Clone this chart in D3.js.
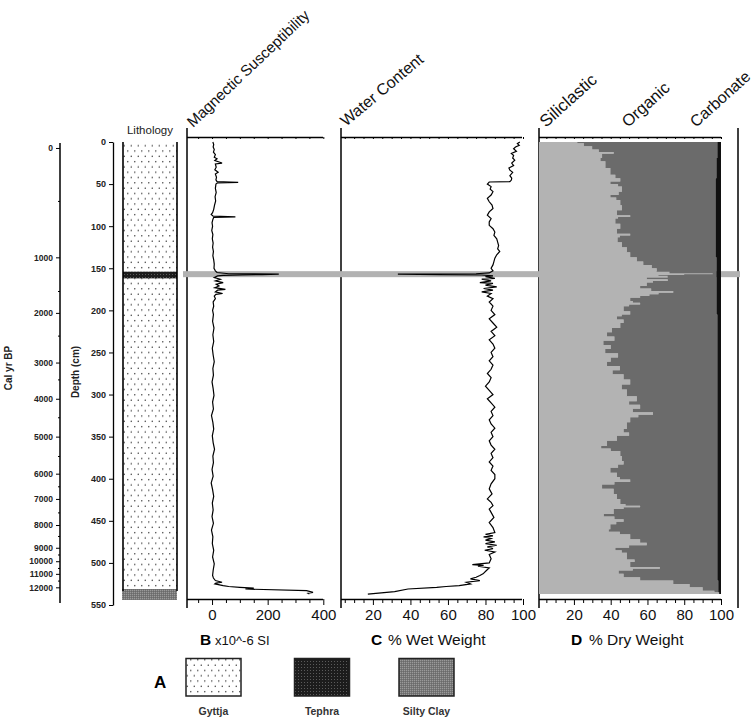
<!DOCTYPE html>
<html><head><meta charset="utf-8">
<script src="https://cdn.jsdelivr.net/npm/d3@7"></script>
<style>body{margin:0;background:#fff}svg{display:block;font-family:"Liberation Sans",Arial,sans-serif}</style>
</head><body><svg id="c" width="754" height="725"></svg>
<script>
// ---------- DATA ----------
const depthTicks = [0,50,100,150,200,250,300,350,400,450,500,550];
const calAges   = [0,500,1000,1500,2000,2500,3000,3500,4000,4500,5000,5500,6000,6500,7000,7500,8000,8500,9000,9500,10000,10500,11000,11500,12000];
const calDepths = [7.1,70,137,177,203,230,262,282,305,327,350,373,394,409,424,440,455,468,482,490,498,506,513,521,529];
const calMajor  = [0,1000,2000,3000,4000,5000,6000,7000,8000,9000,10000,11000,12000];
const calMinor  = [500,1500,2500,3500,4500,5500,6500,7500,8500,9500,10500,11500];

const bTicks  = [-50,0,50,100,150,200,250,300,350,400];
const bLabels = [0,200,400];
const cTicks  = [5,10,15,20,25,30,35,40,45,50,55,60,65,70,75,80,85,90,95,100];
const cLabels = [20,40,60,80,100];
const dTicks  = [5,10,15,20,25,30,35,40,45,50,55,60,65,70,75,80,85,90,95,100];
const dLabels = [20,40,60,80,100];

const tephraDepth = 157;
const lithology = [
  {type:"gyttja", top:0, bottom:531},
  {type:"tephra", top:154, bottom:162},
  {type:"silty",  top:531, bottom:544}
];

const bDepth = [0,3,6,9,12,15,18,20,22,25,26,30,33,36,38,42,45,47,47.5,48,48.5,50,55,60,65,70,75,80,84,86,88,89,89.5,92,96,100,105,110,115,120,125,130,135,140,145,150,153,155,156.5,157,157.5,158,158.5,159,161,163,165,167,169,171,173,175,176,178,180,181,183,186,190,195,200,205,213,221,229,237,245,253,261,269,277,285,293,301,309,317,325,333,341,349,357,365,373,381,389,397,405,413,421,429,437,445,453,461,469,477,485,493,501,509,515,518,521,523,524,525,527,528,529,530,531,533,535,536,537];
const magSus = [3,6,4,8,5,12,8,18,10,36,12,15,10,22,12,16,14,18,65,94,20,14,12,15,11,13,9,6,2,-3,4,84,6,3,0,2,-1,3,1,4,2,5,3,6,8,7,12,18,60,240,180,110,40,20,8,30,12,40,15,25,10,48,20,12,38,14,8,12,4,6,2,5,2,7,3,6,1,4,8,3,5,0,4,7,2,5,-2,3,6,1,4,9,3,5,0,4,-3,2,6,1,4,0,5,-2,3,1,6,2,8,4,2,5,12,36,14,10,40,60,100,150,120,340,363,345,350];

const cDepth = [0,2,4,6,8,11,13.7,16,19,21.6,25,28,31,33.4,36,40,43,45.2,47,47.5,50,53,56,59,63,67,71,75,79,83,87,91,95,99,103,107,111,115,119,123,127,130,134,138,142,146,150,153,155.5,156.5,157,157.5,158,159,160,162,163,165,167,168,170,172,174,176,178,180,183,186,190,195,200,205,210,215,220,225,230,235,240,245,250,255,260,265,270,275,280,285,290,295,300,305,310,315,320,325,330,335,340,345,350,355,360,365,370,375,380,385,390,395,400,406,412,418,424,428,432,436,440,446,452,458,464,466,468,469,471,473,475,477,479,481,483,485,487,490,495,500,502,503,504,506,509,513,515,517,519,521,523,525,527,528,529,531,534,537];
const water = [98.3,97,98,96,95,96.5,93.8,95,94.5,95.6,94,95,92.5,93,94.5,93,94,93.8,93,82,81,83,82.5,84,83,81,82,83.5,84,82,81,83,82,82,84,85,84.5,86,86.5,87,86.5,87.6,86,85,84.5,84,83,84,82,75,33.3,56,78,84,80,85,78,83,77,84,80,86,79,84,78,83,81,84,82,84,83,85,82,84,86,83,85,82,84,85,83,84,82,84,83,81,83,82,80,82,84,81,83,85,83,84,82,83,85,83,84,82,83,85,83,84,82,84,83,85,85,83,82,83.5,81,83,84,82,83,84.5,82,84,85,80,84,79,83,80,85,80,86,81,84,79.6,85,82,83,82,73,79,76,82,80.5,78.7,77,75,72,77,69.8,72,66,59,54,38.7,31.6,17.3];

const dDepth = [0,1.5,5,9,12,14,19,23,31,39,43,47,50,53,59,63,66,69,75,81,87,89,91,97,103,109,111,113,119,125,131,137,142,146,150,154,156,157,158,159,161,163,165,167,171,174,177,179,181,183,185,189,191,193,195,201,205,207,211,215,221,226,231,236,241,246,251,256,261,266,271,276,282,288,294,302,308,312,317,321,324,327,333,341,345,349,355,361,364,367,373,379,383,387,393,398,401,404,407,412,418,424,430,432,434,436,442,445,448,451,454,460,463,466,472,476,479,482,485,488,493,496,499,505,507,509,513,517,521,525,529,533,535,537];
const siliciclastic = [21.8,25.4,29.9,33.5,41.6,35.3,34.4,37.1,39.8,42.5,45.2,39.8,44,46.1,44.3,39.8,43,45.2,46.1,43.4,50.6,44,42.5,45.2,43.4,50.6,45,43.7,46.1,48.8,50.6,54.2,57.7,62.3,65,72,95.5,80,66,71,59.6,71,63,59.6,56,62,74,66,61,56,50.6,52,56,50,47,50.6,46,43.4,47,45.2,40.7,38,42,36,40,37,44,40,38,45,41,47,50.6,46,48.8,54.2,50,56,52,63,55,50.6,48.8,47,50,43.4,38,34.8,40,45.2,46.1,47,44,39.8,43.4,45,50.6,42,35.3,41.6,43.4,45.2,48,56,47,41.6,36.2,42,47,43,39.8,38.9,45,50.6,56,59.6,50,42.5,46,48.8,48.8,53,50.6,66.7,52,44.3,47,56,74,82.9,90,96.4,99,99];
const carbonate = [2,2,2,2,2,2,2.5,2.5,2.5,2.5,3,3,3,3,3,3,3,3,3,3,3,3,3,3,3,3,3,3,3,3,3,2.5,2.5,2.5,2.5,2.5,2.5,2.5,2.5,2.5,2.5,2.5,2.5,2.5,2.5,2.5,2.5,2.5,2.5,2.5,2.5,2.5,2.5,2.5,2.5,2.5,2,2,2,2,2,2,2,2,2,2,2,2,2,2,2,2,2,2,2,2,2,2,2,2,2,2,2,2,2,2,2,2,2,2,2,2,2,2,2,2,2,2,2,2,2,2,2,2,2,2,2,2,2,2,2,2,2,2,2,2,2,2,2,2,2,2,2,2,2,2,2,2,2,2,1.5,1.5,1.5,1.5,1,1];
const organic = [76.2,72.6,68.1,64.5,56.4,62.7,63.1,60.4,57.7,55,51.8,57.2,53,50.9,52.7,57.2,54,51.8,50.9,53.6,46.4,53,54.5,51.8,53.6,46.4,52,53.3,50.9,48.2,46.4,43.3,39.8,35.2,32.5,25.5,2,17.5,31.5,26.5,37.9,26.5,34.5,37.9,41.5,35.5,23.5,31.5,36.5,41.5,46.9,45.5,41.5,47.5,50.5,46.9,52,54.6,51,52.8,57.3,60,56,62,58,61,54,58,60,53,57,51,47.4,52,49.2,43.8,48,42,46,35,43,47.4,49.2,51,48,54.6,60,63.2,58,52.8,51.9,51,54,58.2,54.6,53,47.4,56,62.7,56.4,54.6,52.8,50,42,51,56.4,61.8,56,51,55,58.2,59.1,53,47.4,42,38.4,48,55.5,52,49.2,49.2,45,47.4,31.3,46,53.7,51,42,24.5,15.6,8.5,2.1,0,0];

// ---------- CHART ----------
const svg = d3.select('#c');
const FONT = '"Liberation Sans", Arial, sans-serif';
const y = d3.scaleLinear().domain([0,550]).range([142,605]);
const xB = d3.scaleLinear().domain([-90,400]).range([187,323.3]);
const xC = d3.scaleLinear().domain([3,100]).range([341,523]);
const xD = d3.scaleLinear().domain([1,100]).range([539,721]).clamp(true);
const AXIS_Y = 599, TOP_Y = 137;

// patterns
const defs = svg.append('defs');
const pg = defs.append('pattern').attr('id','gyttja').attr('patternUnits','userSpaceOnUse').attr('width',7).attr('height',10.6);
pg.append('rect').attr('width',7).attr('height',10.6).attr('fill','#fff');
pg.append('circle').attr('cx',1.75).attr('cy',2.65).attr('r',0.75).attr('fill','#333');
pg.append('circle').attr('cx',5.25).attr('cy',7.95).attr('r',0.75).attr('fill','#333');
const pt = defs.append('pattern').attr('id','tephra').attr('patternUnits','userSpaceOnUse').attr('width',3).attr('height',3);
pt.append('rect').attr('width',3).attr('height',3).attr('fill','#1c1c1c');
pt.append('rect').attr('x',1).attr('y',1).attr('width',1).attr('height',1).attr('fill','#5a5a5a');
const ps = defs.append('pattern').attr('id','silty').attr('patternUnits','userSpaceOnUse').attr('width',2).attr('height',2);
ps.append('rect').attr('width',2).attr('height',2).attr('fill','#777');
ps.append('rect').attr('width',1).attr('height',1).attr('fill','#9a9a9a');
ps.append('rect').attr('x',1).attr('y',1).attr('width',1).attr('height',1).attr('fill','#6a6a6a');

// ---- Cal yr BP axis ----
const calScale = d3.scaleLinear().domain(calAges).range(calDepths.map(d=>y(d)));
svg.append('line').attr('x1',60).attr('x2',60).attr('y1',143).attr('y2',603).attr('stroke','#000').attr('stroke-width',1.5);
const gCal = svg.append('g').attr('transform','translate(60,0)')
  .call(d3.axisLeft(calScale).tickValues(calMajor).tickSize(4).tickPadding(3).tickSizeOuter(0).tickFormat(d=>d));
gCal.select('.domain').remove();
gCal.attr('font-family',FONT).attr('font-size',8.5);
gCal.selectAll('text').attr('fill','#222').attr('font-weight','bold');
const gCalMin = svg.append('g').attr('transform','translate(60,0)')
  .call(d3.axisLeft(calScale).tickValues(calMinor).tickSize(2).tickSizeOuter(0).tickFormat(''));
gCalMin.select('.domain').remove();
svg.append('text').attr('transform','translate(12,368) rotate(-90)').attr('text-anchor','middle')
  .attr('font-family',FONT).attr('font-size',10).attr('font-weight','bold').attr('fill','#222').text('Cal yr BP');

// ---- Depth axis ----
const gDepth = svg.append('g').attr('transform','translate(113,0)')
  .call(d3.axisLeft(y).tickValues(depthTicks).tickSize(4).tickPadding(3).tickSizeOuter(0));
gDepth.attr('font-family',FONT).attr('font-size',9);
gDepth.select('.domain').attr('stroke-width',1.3);
gDepth.selectAll('text').attr('fill','#222').attr('font-weight','bold');
svg.append('text').attr('transform','translate(79,372) rotate(-90)').attr('text-anchor','middle')
  .attr('font-family',FONT).attr('font-size',10).attr('font-weight','bold').attr('fill','#222').text('Depth (cm)');

// ---- Lithology ----
const litho = svg.append('g');
litho.selectAll('rect').data(lithology).join('rect')
  .attr('x', d=>d.type==='silty'?122:123).attr('width', d=>d.type==='silty'?55:54)
  .attr('y', d=>y(d.top)).attr('height', d=>y(d.bottom)-y(d.top))
  .attr('fill', d=>`url(#${d.type})`);
[123,177].forEach(x=>litho.append('line').attr('x1',x).attr('x2',x).attr('y1',y(0)).attr('y2',591).attr('stroke','#000').attr('stroke-width',1.6));
svg.append('text').attr('x',150).attr('y',134).attr('text-anchor','middle').attr('font-family',FONT)
  .attr('font-size',11.5).attr('fill','#222').text('Lithology');

// ---- panel frames & axes ----
function panelAxes(scale, ticks, labels, x0, x1){
  const gb = svg.append('g').attr('transform',`translate(0,${AXIS_Y})`)
    .call(d3.axisBottom(scale).tickValues(ticks).tickSize(5).tickPadding(5.5).tickSizeOuter(0)
      .tickFormat(d=>labels.includes(d)?d:''));
  gb.attr('font-family',FONT).attr('font-size',15);
  gb.select('.domain').attr('d',`M${x0},0.5H${x1}`).attr('stroke-width',1.3);
  gb.selectAll('.tick line').attr('y2',d=>labels.includes(d)?6:4);
  gb.selectAll('text').attr('fill','#111');
  const gt = svg.append('g').attr('transform',`translate(0,${TOP_Y})`)
    .call(d3.axisBottom(scale).tickValues(ticks).tickSize(2).tickSizeOuter(0).tickFormat(''));
  gt.select('.domain').attr('d',`M${x0},0.5H${x1}`).attr('stroke-width',1.3);
}
panelAxes(xB, bTicks, bLabels, 187, 323);
panelAxes(xC, cTicks, cLabels, 341, 522);
panelAxes(xD, dTicks, dLabels, 539, 721);
[187,341,539,738].forEach(x=>svg.append('line').attr('x1',x).attr('x2',x).attr('y1',128).attr('y2',608).attr('stroke','#000').attr('stroke-width',1.5));

// tephra band
svg.append('rect').attr('x',183).attr('width',557).attr('y',y(tephraDepth)-3).attr('height',6).attr('fill','#b2b2b2');

// ---- Panel D stacked fills (stepped: each sample holds until the next depth) ----
const rows = dDepth.map((d,i)=>({d, s:siliciclastic[i], o:organic[i], c:carbonate[i]}));
const stepRows = [];
rows.forEach((r,i)=>{
  stepRows.push({...r, yy:r.d});
  if(i<rows.length-1) stepRows.push({...r, yy:rows[i+1].d});
});
const areaD = (lo,hi)=>d3.area().y(r=>y(r.yy)).x0(r=>xD(lo(r))).x1(r=>xD(hi(r)));
svg.append('path').datum(stepRows).attr('fill','#b3b3b3').attr('d',areaD(r=>0, r=>r.s));
svg.append('path').datum(stepRows).attr('fill','#6b6b6b').attr('d',areaD(r=>r.s, r=>r.s+r.o));
svg.append('path').datum(stepRows).attr('fill','#111').attr('d',areaD(r=>r.s+r.o, r=>r.s+r.o+r.c));

// ---- Panel B & C lines ----
svg.append('path').datum(bDepth.map((d,i)=>[xB(magSus[i]), y(d)]))
  .attr('fill','none').attr('stroke','#000').attr('stroke-width',1.2).attr('d',d3.line());
svg.append('path').datum(cDepth.map((d,i)=>[xC(water[i]), y(d)]))
  .attr('fill','none').attr('stroke','#000').attr('stroke-width',1.2).attr('d',d3.line());

// ---- rotated titles ----
const titles = [
  {t:'Magnectic Susceptibility', x:193, y:128, size:15.2, ang:43.5},
  {t:'Water Content', x:346, y:127, size:16, ang:40},
  {t:'Siliclastic', x:546, y:128, size:17, ang:42},
  {t:'Organic', x:628, y:128, size:16.5, ang:42},
  {t:'Carbonate', x:696, y:128, size:16, ang:42}
];
svg.selectAll('text.title').data(titles).join('text').attr('class','title')
  .attr('transform',d=>`translate(${d.x},${d.y}) rotate(${-d.ang})`)
  .attr('font-family',FONT).attr('font-size',d=>d.size).attr('fill','#111').text(d=>d.t);

// ---- bottom labels ----
const bl = [
  {k:'B', t:'x10^-6 SI', x:200, tx:215, ts:13},
  {k:'C', t:'% Wet Weight', x:371, tx:388, ts:15.5},
  {k:'D', t:'% Dry Weight', x:571, tx:589, ts:15.5}
];
bl.forEach(d=>{
  svg.append('text').attr('x',d.x).attr('y',645).attr('font-family',FONT).attr('font-size',15.5).attr('font-weight','bold').attr('fill','#000').text(d.k);
  svg.append('text').attr('x',d.tx).attr('y',645).attr('font-family',FONT).attr('font-size',d.ts).attr('fill','#111').text(d.t);
});

// ---- legend ----
svg.append('text').attr('x',154).attr('y',688).attr('font-family',FONT).attr('font-size',17).attr('font-weight','bold').text('A');
const legend = [
  {type:'gyttja', label:'Gyttja', x:186},
  {type:'tephra', label:'Tephra', x:294.5},
  {type:'silty', label:'Silty Clay', x:399}
];
legend.forEach(d=>{
  svg.append('rect').attr('x',d.x).attr('y',658.5).attr('width',55).attr('height',37.5)
    .attr('fill',`url(#${d.type})`).attr('stroke','#222').attr('stroke-width',1.5);
  svg.append('text').attr('x',d.x+27.5).attr('y',715).attr('text-anchor','middle').attr('font-family',FONT)
    .attr('font-size',10.5).attr('font-weight','bold').attr('fill','#333').text(d.label);
});
</script></body></html>
